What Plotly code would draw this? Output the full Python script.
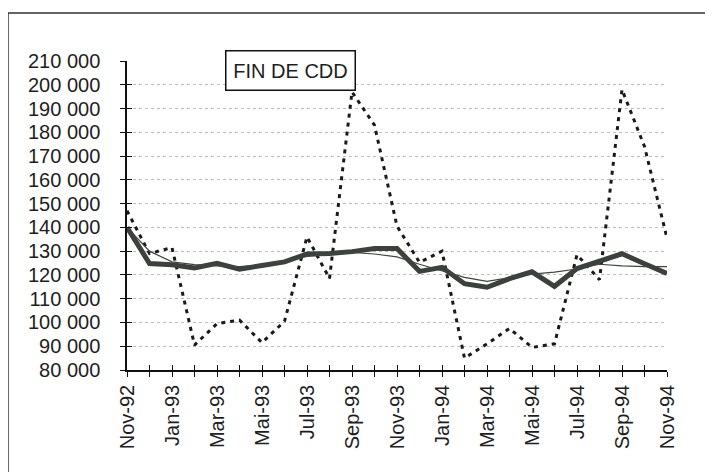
# Fin de CDD : série brute, série CVS et tendance, nov. 1992 - nov. 1994
import plotly.graph_objects as go

# --- Données ---
mois = ["Nov-92", "Déc-92", "Jan-93", "Fév-93", "Mar-93", "Avr-93", "Mai-93",
        "Juin-93", "Jul-93", "Aoû-93", "Sep-93", "Oct-93", "Nov-93", "Déc-93",
        "Jan-94", "Fév-94", "Mar-94", "Avr-94", "Mai-94", "Juin-94", "Jul-94",
        "Aoû-94", "Sep-94", "Oct-94", "Nov-94"]

brut = [147000, 129000, 131500, 90500, 99500, 101000, 91500, 100500, 136000,
        118500, 197000, 183000, 140500, 125300, 130000, 85000, 91000, 97500,
        89500, 91000, 128500, 118000, 198000, 174000, 135500]

cvs = [140000, 124800, 124300, 122900, 124900, 122400, 124000, 125500, 128800,
       129000, 129800, 131100, 131100, 121500, 123200, 116300, 114800, 118400,
       121300, 115200, 122700, 126000, 128900, 124700, 120600]

tendance = [140000, 130000, 125500, 124300, 123800, 123500, 124200, 125800,
            127800, 128800, 129500, 128800, 127600, 124500, 121600, 119000,
            117300, 118800, 120300, 121200, 122500, 124500, 123800, 123500,
            123500]

etiquettes = [m if i % 2 == 0 else "" for i, m in enumerate(mois)]

police = "Liberation Sans, Arial, sans-serif"

fig = go.Figure()

# --- Série brute (pointillés) ---
fig.add_trace(go.Scatter(
    x=mois, y=brut, mode="lines",
    line=dict(color="#1a1a1a", width=3, dash="4px,5px"),
    name="Brut"
))

# --- Série CVS (trait épais) ---
fig.add_trace(go.Scatter(
    x=mois, y=cvs, mode="lines",
    line=dict(color="#3b413b", width=5),
    name="CVS"
))

# --- Tendance (trait fin), sur les axes superposés pour les graduations en croix ---
fig.add_trace(go.Scatter(
    x=mois, y=tendance, mode="lines",
    line=dict(color="#404540", width=1.2),
    name="Tendance", xaxis="x2", yaxis="y2"
))

axe_x = dict(
    type="category", range=[0, len(mois) - 1],
    tickmode="array", tickvals=mois, ticktext=etiquettes,
    tickangle=-90, showline=True, linecolor="#111", linewidth=1.5,
    tickcolor="#111", tickwidth=1.2, ticklen=5, showgrid=False,
    zeroline=False
)
axe_y = dict(
    range=[80000, 210000], dtick=10000, tickformat=",d",
    showline=True, linecolor="#111", linewidth=1.5,
    tickcolor="#111", tickwidth=1.2, ticklen=5, zeroline=False
)

# la page ajoute une marge de 8 px : figure réduite d'autant
fig.update_layout(
    width=705, height=464,
    margin=dict(l=119, r=46, t=53, b=102),
    paper_bgcolor="white", plot_bgcolor="white",
    separators=", ",
    showlegend=False,
    font=dict(family=police, size=20, color="#1e1e1e"),
    xaxis=dict(axe_x, ticks="outside",
               tickfont=dict(family=police, size=20, color="#1e1e1e")),
    yaxis=dict(axe_y, ticks="outside", ticklabelstandoff=16,
               showgrid=True, gridcolor="#bdbdbd", griddash="dot", gridwidth=1,
               tickfont=dict(family=police, size=20, color="#1e1e1e")),
    xaxis2=dict(axe_x, ticks="inside", overlaying="x", showticklabels=False),
    yaxis2=dict(axe_y, ticks="inside", overlaying="y", showticklabels=False,
                showgrid=False),
    annotations=[dict(
        text="FIN DE CDD", xref="paper", yref="paper", x=0.303, y=0.968,
        xanchor="center", yanchor="middle",
        showarrow=False, font=dict(family=police, size=20, color="#1e1e1e"),
        bgcolor="white", bordercolor="#111", borderwidth=1.5, borderpad=4,
        width=120, height=30
    )],
    shapes=[dict(
        type="rect", xref="paper", yref="paper",
        x0=-0.2204, x1=1.2, y0=-0.5, y1=1.155,
        line=dict(color="#333", width=1.5), layer="below"
    )]
)

fig.write_html("out.html")
